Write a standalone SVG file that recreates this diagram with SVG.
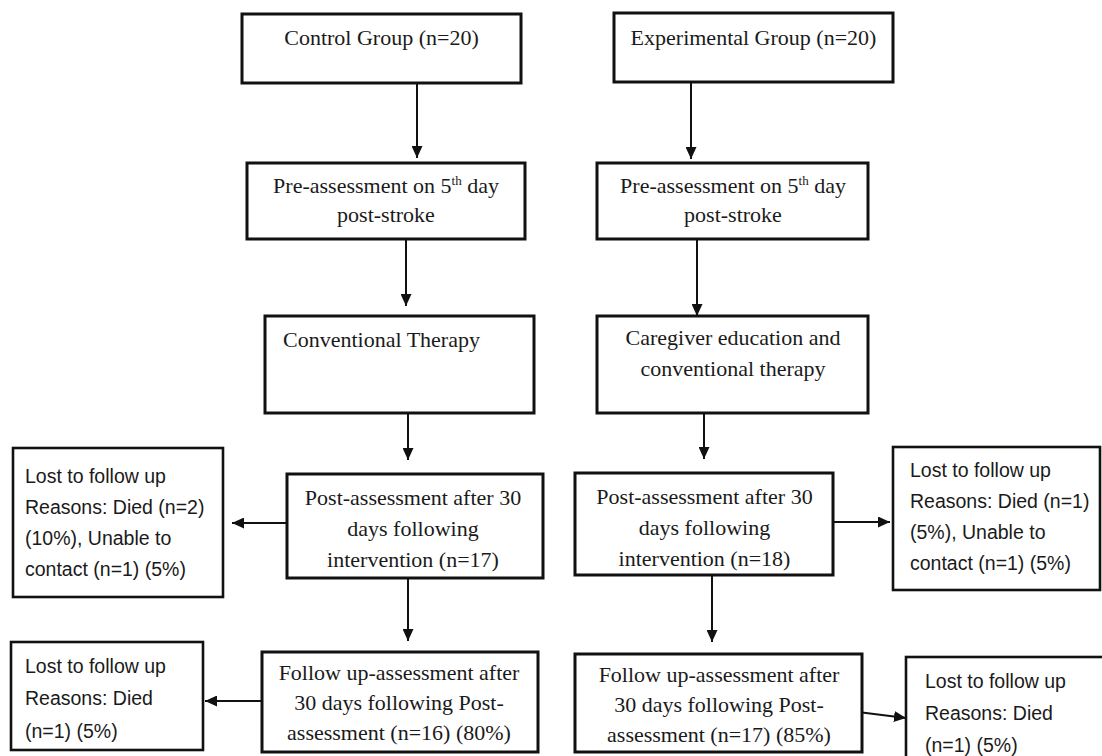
<svg xmlns="http://www.w3.org/2000/svg" width="1102" height="756" viewBox="0 0 1102 756">
<defs>
<style>
.box{fill:#fff;stroke:#111;stroke-width:3}
.lost{fill:#fff;stroke:#111;stroke-width:2.6}
.t{font-family:"Liberation Serif","Times New Roman",serif;font-size:22px;fill:#1a1a1a}
.s{font-family:"Liberation Sans",Arial,sans-serif;font-size:19.5px;fill:#1a1a1a}
.c{text-anchor:middle}
.con line{stroke:#111;stroke-width:2;fill:none;marker-end:url(#ah)}
</style>
<marker id="ah" markerUnits="userSpaceOnUse" markerWidth="13" markerHeight="11" refX="12" refY="5.5" orient="auto">
<path d="M0,0 L12,5.5 L0,11 z" fill="#111"/>
</marker>
</defs>
<rect width="1102" height="756" fill="#fff"/>

<g class="con" id="connectors">
<line x1="417" y1="83" x2="417" y2="158"/>
<line x1="691" y1="82" x2="691" y2="159"/>
<line x1="406" y1="239" x2="406" y2="306"/>
<line x1="697" y1="239" x2="697" y2="316"/>
<line x1="408" y1="413" x2="408" y2="460"/>
<line x1="704" y1="413" x2="704" y2="459"/>
<line x1="286" y1="523" x2="232" y2="523"/>
<line x1="833" y1="522" x2="890" y2="522"/>
<line x1="408" y1="578" x2="408" y2="641"/>
<line x1="712" y1="575" x2="712" y2="642"/>
<line x1="262" y1="701" x2="205" y2="701"/>
<line x1="858" y1="712" x2="906" y2="718"/>
</g>

<g id="control">
<rect class="box" x="242" y="14" width="279" height="69"/>
<text class="t c" x="381.5" y="45">Control Group (n=20)</text>
</g>
<g id="experimental">
<rect class="box" x="614" y="13" width="279" height="69"/>
<text class="t c" x="753.5" y="45">Experimental Group (n=20)</text>
</g>
<g id="pre-left">
<rect class="box" x="247" y="163" width="278" height="76"/>
<text class="t c" x="386" y="193">Pre-assessment on 5<tspan font-size="13" dy="-8">th</tspan><tspan dy="8"> day</tspan></text>
<text class="t c" x="386" y="222">post-stroke</text>
</g>
<g id="pre-right">
<rect class="box" x="597" y="163" width="271" height="76"/>
<text class="t c" x="733" y="193">Pre-assessment on 5<tspan font-size="13" dy="-8">th</tspan><tspan dy="8"> day</tspan></text>
<text class="t c" x="733" y="222">post-stroke</text>
</g>
<g id="conventional">
<rect class="box" x="265" y="316" width="269" height="97"/>
<text class="t" x="283" y="347">Conventional Therapy</text>
</g>
<g id="caregiver">
<rect class="box" x="597" y="316" width="271" height="97"/>
<text class="t c" x="733" y="345">Caregiver education and</text>
<text class="t c" x="733" y="376">conventional therapy</text>
</g>
<g id="post-left">
<rect class="box" x="287" y="474" width="256" height="104"/>
<text class="t c" x="413" y="505">Post-assessment after 30</text>
<text class="t c" x="413" y="536">days following</text>
<text class="t c" x="413" y="567">intervention (n=17)</text>
</g>
<g id="post-right">
<rect class="box" x="575" y="473" width="258" height="102"/>
<text class="t c" x="704.5" y="504">Post-assessment after 30</text>
<text class="t c" x="704.5" y="535">days following</text>
<text class="t c" x="704.5" y="566">intervention (n=18)</text>
</g>
<g id="lost-left-1">
<rect class="lost" x="13" y="448" width="210" height="149"/>
<text class="s" x="25" y="483">Lost to follow up</text>
<text class="s" x="25" y="514">Reasons: Died (n=2)</text>
<text class="s" x="25" y="545">(10%), Unable to</text>
<text class="s" x="25" y="576">contact (n=1) (5%)</text>
</g>
<g id="lost-right-1">
<rect class="lost" x="893" y="447" width="207" height="143"/>
<text class="s" x="910" y="477">Lost to follow up</text>
<text class="s" x="910" y="508">Reasons: Died (n=1)</text>
<text class="s" x="910" y="539">(5%), Unable to</text>
<text class="s" x="910" y="570">contact (n=1) (5%)</text>
</g>
<g id="followup-left">
<rect class="box" x="262" y="652" width="276" height="100"/>
<text class="t c" x="399" y="680">Follow up-assessment after</text>
<text class="t c" x="399" y="710">30 days following Post-</text>
<text class="t c" x="399" y="740">assessment (n=16) (80%)</text>
</g>
<g id="followup-right">
<rect class="box" x="575" y="654" width="287" height="98"/>
<text class="t c" x="719" y="682">Follow up-assessment after</text>
<text class="t c" x="719" y="712">30 days following Post-</text>
<text class="t c" x="719" y="742">assessment (n=17) (85%)</text>
</g>
<g id="lost-left-2">
<rect class="lost" x="11" y="642" width="192" height="108"/>
<text class="s" x="25" y="673">Lost to follow up</text>
<text class="s" x="25" y="705">Reasons: Died</text>
<text class="s" x="25" y="738">(n=1) (5%)</text>
</g>
<g id="lost-right-2">
<rect class="lost" x="906" y="657" width="220" height="120"/>
<text class="s" x="925" y="688">Lost to follow up</text>
<text class="s" x="925" y="720">Reasons: Died</text>
<text class="s" x="925" y="752">(n=1) (5%)</text>
</g>
</svg>
